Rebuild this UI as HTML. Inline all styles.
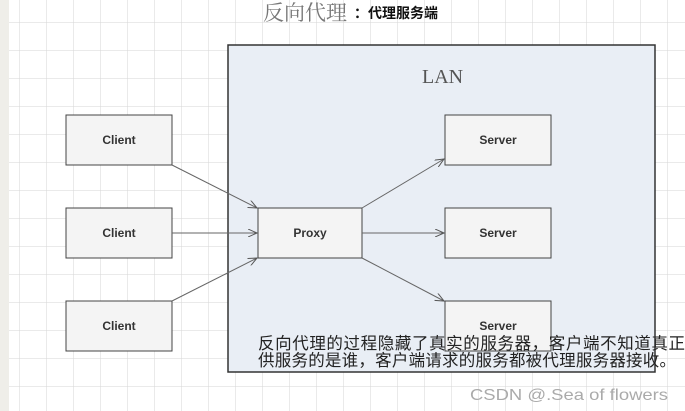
<!DOCTYPE html>
<html><head><meta charset="utf-8"><style>
body{margin:0;width:685px;height:411px;overflow:hidden;background:#fff;font-family:"Liberation Sans","Noto Sans CJK SC",sans-serif;}
</style></head><body>
<svg width="685" height="411" xmlns="http://www.w3.org/2000/svg" style="position:absolute;left:0;top:0">
<defs>
<pattern id="g" width="27" height="28" patternUnits="userSpaceOnUse" x="-7" y="-5">
<path d="M27 0V28M0 28H27" stroke="#d6d6d6" stroke-width="1" fill="none"/>
</pattern>
<marker id="a" markerWidth="10" markerHeight="8" refX="9" refY="4" orient="auto" markerUnits="userSpaceOnUse"><path d="M0,0 L9,4 L0,8" fill="none" stroke="#555" stroke-width="1"/></marker>
</defs>
<rect x="0" y="0" width="685" height="411" fill="url(#g)"/>
<rect x="0" y="0" width="9" height="411" fill="#efeee9"/>
<rect x="228" y="45" width="427" height="327" fill="#e9eef5" stroke="#333" stroke-width="1.5"/>
<text x="422" y="83" font-family="Liberation Serif,serif" font-size="20" fill="#555">LAN</text>
<g fill="#f4f4f4" stroke="#444" stroke-width="1">
<rect x="66" y="115" width="106" height="50"/><rect x="66" y="208" width="106" height="50"/><rect x="66" y="301" width="106" height="50"/>
<rect x="258" y="208" width="104" height="50"/>
<rect x="445" y="115" width="106" height="50"/><rect x="445" y="208" width="106" height="50"/><rect x="445" y="301" width="106" height="50"/>
</g>
<g font-size="12" font-weight="bold" fill="#333" text-anchor="middle">
<text x="119" y="144">Client</text><text x="119" y="237">Client</text><text x="119" y="330">Client</text>
<text x="310" y="237">Proxy</text>
<text x="498" y="144">Server</text><text x="498" y="237">Server</text><text x="498" y="330">Server</text>
</g>
<g stroke="#666" stroke-width="1" marker-end="url(#a)">
<line x1="172" y1="165" x2="257" y2="208"/>
<line x1="172" y1="233" x2="257" y2="233"/>
<line x1="172" y1="301" x2="257" y2="258"/>
<line x1="362" y1="208" x2="444" y2="159"/>
<line x1="362" y1="233" x2="444" y2="233"/>
<line x1="362" y1="258" x2="444" y2="301"/>
</g>
<text x="263" y="20" font-size="21" fill="#777" font-family="Noto Serif CJK SC,serif">反向代理</text>
<text x="354" y="18" font-size="14" font-weight="bold" fill="#111">：代理服务端</text>
<text x="258" y="349" font-size="16.5" fill="#222" textLength="427" lengthAdjust="spacing">反向代理的过程隐藏了真实的服务器，客户端不知道真正</text>
<text x="258" y="366" font-size="16.5" fill="#222" textLength="418" lengthAdjust="spacing">供服务的是谁，客户端请求的服务都被代理服务器接收。</text>
<text x="470" y="400" font-size="16" fill="#aaa" textLength="198" lengthAdjust="spacingAndGlyphs">CSDN @.Sea of flowers</text>
</svg>
</body></html>
